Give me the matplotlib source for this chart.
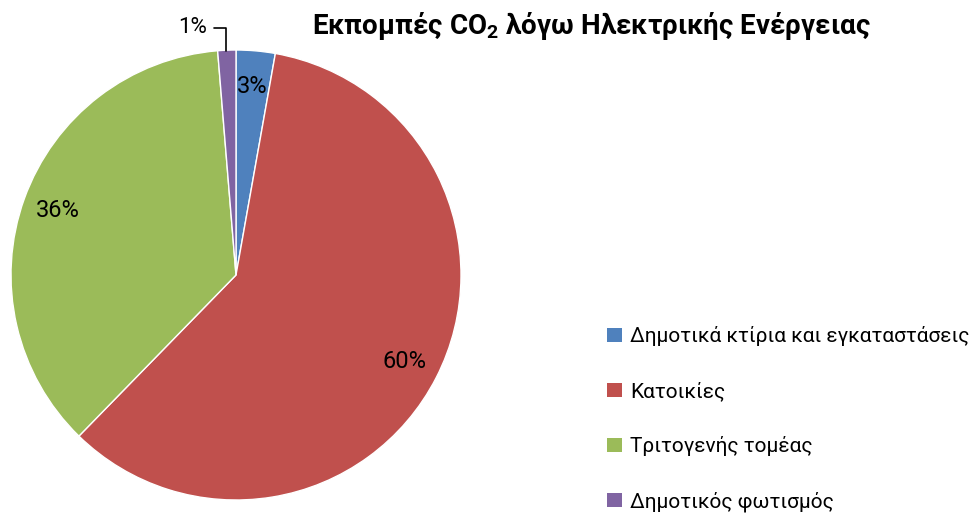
import matplotlib
matplotlib.use("Agg")
import matplotlib.pyplot as plt
from matplotlib.patches import Patch

plt.rcParams['font.family'] = ['Roboto', 'DejaVu Sans']
plt.rcParams['mathtext.fontset'] = 'custom'
plt.rcParams['mathtext.rm'] = 'Roboto'
plt.rcParams['mathtext.bf'] = 'Roboto:bold'

# data
categories = ["Δημοτικά κτίρια και εγκαταστάσεις", "Κατοικίες",
              "Τριτογενής τομέας", "Δημοτικός φωτισμός"]
values = [2.8, 59.5, 36.4, 1.3]
colors = ["#4F81BD", "#C0504D", "#9BBB59", "#8064A2"]
title = "Εκπομπές CO$_\\mathbf{2}$ λόγω Ηλεκτρικής Ενέργειας"

W, H = 977, 514
fig = plt.figure(figsize=(W / 100, H / 100), dpi=100)

# pie: centre (236, 275) px, radius 225 px
cx, cy, r = 236, 275, 225
ax = fig.add_axes([(cx - r) / W, (H - cy - r) / H, 2 * r / W, 2 * r / H])

wedges, texts, autotexts = ax.pie(
    values, colors=colors, startangle=90, counterclock=False,
    autopct="%.0f%%", pctdistance=0.84,
    wedgeprops=dict(edgecolor="white", linewidth=1),
    textprops=dict(fontsize=17, color="black"),
)
ax.set_aspect("equal")
ax.set_xlim(-1, 1)
ax.set_ylim(-1, 1)

# small slice label goes outside with a leader line
autotexts[-1].set_visible(False)
ax.annotate(autotexts[-1].get_text(), xy=(-0.045, 0.995), xytext=(-0.13, 1.1),
            fontsize=16, ha="right", va="center",
            arrowprops=dict(arrowstyle="-", color="black", lw=1.2,
                            shrinkA=3, shrinkB=0,
                            connectionstyle="angle,angleA=0,angleB=90,rad=0"),
            annotation_clip=False)

fig.text(591 / W, 1 - 26 / H, title, ha="center", va="center",
         fontsize=20, fontweight="bold")

handles = [Patch(facecolor=c) for c in colors]
fig.legend(handles, categories, loc="center left",
           bbox_to_anchor=(607 / W, 1 - 419 / H), frameon=False,
           borderpad=0, borderaxespad=0,
           fontsize=15, handlelength=0.7, handleheight=0.7,
           handletextpad=0.4, labelspacing=1.68)

fig.savefig("out.png", dpi=100)
